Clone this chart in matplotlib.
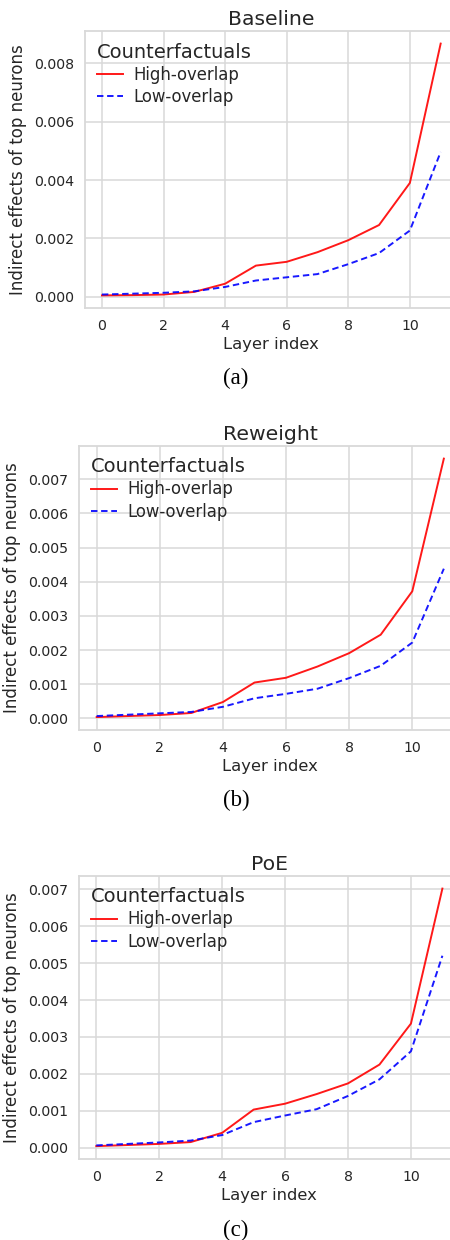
import matplotlib
matplotlib.use("Agg")
import matplotlib.pyplot as plt
from matplotlib.ticker import MultipleLocator

layers = list(range(12))

titles = ["Baseline", "Reweight", "PoE"]
captions = ["(a)", "(b)", "(c)"]

baseline_high = [0.00005, 0.00006, 0.00008, 0.00017, 0.00045, 0.00107, 0.00120, 0.00153, 0.00194, 0.00246, 0.00390, 0.00867]
baseline_low = [0.00008, 0.00011, 0.00014, 0.00019, 0.00034, 0.00056, 0.00067, 0.00078, 0.00112, 0.00150, 0.00227, 0.00496]

reweight_high = [0.00004, 0.00007, 0.00010, 0.00016, 0.00048, 0.00105, 0.00119, 0.00152, 0.00191, 0.00245, 0.00372, 0.00760]
reweight_low = [0.00007, 0.00011, 0.00015, 0.00019, 0.00034, 0.00059, 0.00072, 0.00087, 0.00118, 0.00154, 0.00222, 0.00438]

poe_high = [0.00004, 0.00007, 0.00010, 0.00015, 0.00040, 0.00103, 0.00119, 0.00145, 0.00174, 0.00225, 0.00336, 0.00702]
poe_low = [0.00006, 0.00010, 0.00014, 0.00019, 0.00034, 0.00069, 0.00087, 0.00104, 0.00140, 0.00185, 0.00261, 0.00520]

series_high = [baseline_high, reweight_high, poe_high]
series_low = [baseline_low, reweight_low, poe_low]
y_steps = [0.002, 0.001, 0.001]

legend_title = "Counterfactuals"
label_high = "High-overlap"
label_low = "Low-overlap"
xlabel = "Layer index"
ylabel = "Indirect effects of top neurons"

TXT = "#262626"
GRID = "#d9d9d9"

plt.rcParams["font.family"] = ["DejaVu Sans"]
plt.rcParams["text.color"] = TXT
plt.rcParams["axes.labelcolor"] = TXT
plt.rcParams["xtick.color"] = TXT
plt.rcParams["ytick.color"] = TXT

W, H = 450, 1240
fig = plt.figure(figsize=(W / 100, H / 100), dpi=100)

# axes boxes in pixels: left, top, right, bottom
boxes = [(85, 31, 457.6, 308), (79.3, 445.7, 461.2, 730), (79, 875.7, 459.7, 1159)]
caption_y = [378, 800, 1230]

for i in range(3):
    l, t, r, b = boxes[i]
    ax = fig.add_axes([l / W, 1 - b / H, (r - l) / W, (b - t) / H])
    ax.set_facecolor("white")
    ax.plot(layers, series_high[i], color="red", lw=1.4, alpha=0.9, label=label_high)
    ax.plot(layers, series_low[i], color="blue", lw=1.4, alpha=0.9, ls=(0, (3.3, 1.9)), label=label_low)
    ax.set_xlim(-0.55, 11.55)
    ax.margins(y=0.05)
    ax.xaxis.set_major_locator(MultipleLocator(2))
    ax.yaxis.set_major_locator(MultipleLocator(y_steps[i]))
    ax.yaxis.set_major_formatter(matplotlib.ticker.FormatStrFormatter("%.3f"))
    ax.grid(True, color=GRID, lw=1.1)
    ax.set_axisbelow(True)
    for s in ax.spines.values():
        s.set_color(GRID)
        s.set_linewidth(1.3)
    ax.tick_params(length=0, labelsize=10.2, pad=8)
    ax.set_xlabel(xlabel, fontsize=11.8, labelpad=3)
    ax.set_ylabel(ylabel, fontsize=12, labelpad=5)
    ax.set_title(titles[i], fontsize=14.7, pad=4)
    leg = ax.legend(title=legend_title, loc="upper left", frameon=False,
                    fontsize=11.9, title_fontsize=14, handlelength=1.6,
                    handletextpad=0.6, labelspacing=0.25, borderaxespad=0.3)
    leg._legend_box.align = "left"
    fig.text(236 / W, 1 - caption_y[i] / H, captions[i], ha="center", va="center",
             fontsize=16.5, family="Liberation Serif", color="black")

fig.savefig("out.png", dpi=100)
